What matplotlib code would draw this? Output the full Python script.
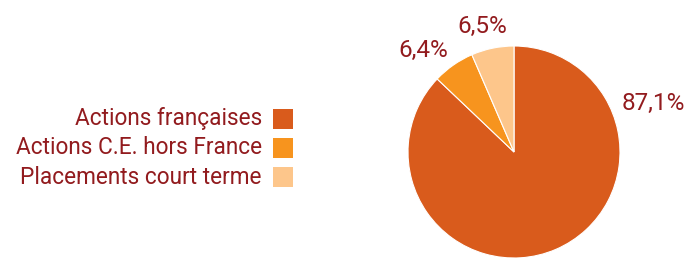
import matplotlib
matplotlib.use("Agg")
import matplotlib.pyplot as plt
from matplotlib.patches import Rectangle

categories = ["Actions françaises", "Actions C.E. hors France", "Placements court terme"]
values = [87.1, 6.4, 6.5]
labels = ["87,1%", "6,4%", "6,5%"]
colors = ["#D95B1C", "#F7941E", "#FDC68B"]
text_color = "#921B1E"

W, H = 693, 259
fig = plt.figure(figsize=(W / 100, H / 100), dpi=100)
plt.rcParams['font.family'] = ['Roboto', 'DejaVu Sans']

cx, cy, r = 514, 152, 106
ax = fig.add_axes([(cx - r) / W, (H - cy - r) / H, 2 * r / W, 2 * r / H])
ax.pie(values, colors=colors, startangle=90, counterclock=False,
       wedgeprops=dict(edgecolor="white", linewidth=0.8), radius=1)
ax.set_xlim(-1, 1)
ax.set_ylim(-1, 1)
ax.set_aspect("equal")
ax.axis("off")

def px(x, y):
    return x / W, (H - y) / H

label_pos = [(653, 103), (423, 50), (482, 26)]
for lab, (x, y) in zip(labels, label_pos):
    fig.text(*px(x, y), lab, color=text_color, fontsize=17.5, ha="center", va="center")

rows_y = [119, 148, 177]
for cat, col, y in zip(categories, colors, rows_y):
    fig.text(*px(262, y), cat, color=text_color, fontsize=16.3, ha="right", va="center")
    fig.patches.append(Rectangle(px(273, y + 10), 20 / W, 20 / H, transform=fig.transFigure,
                                 facecolor=col, edgecolor="none", figure=fig))

fig.savefig("out.png", dpi=100)
